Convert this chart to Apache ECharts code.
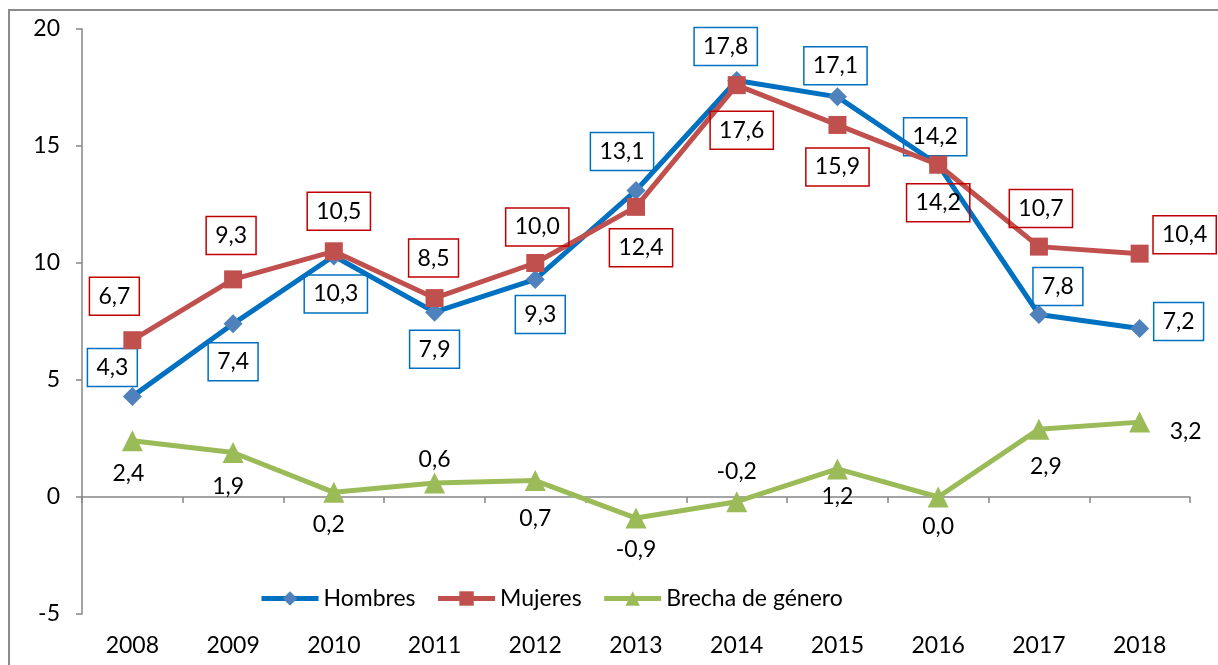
<!DOCTYPE html>
<html>
<head>
<meta charset="utf-8">
<script src="https://cdn.jsdelivr.net/npm/echarts@6/dist/echarts.min.js"></script>
<style>
  html, body { margin: 0; padding: 0; background: #fff; }
  #chart { width: 1218px; height: 665px; }
</style>
</head>
<body>
<div id="chart"></div>
<script>
var years = ['2008', '2009', '2010', '2011', '2012', '2013', '2014', '2015', '2016', '2017', '2018'];
var hombres = [4.3, 7.4, 10.3, 7.9, 9.3, 13.1, 17.8, 17.1, 14.2, 7.8, 7.2];
var mujeres = [6.7, 9.3, 10.5, 8.5, 10.0, 12.4, 17.6, 15.9, 14.2, 10.7, 10.4];
var brecha = [2.4, 1.9, 0.2, 0.6, 0.7, -0.9, -0.2, 1.2, 0.0, 2.9, 3.2];

// where each data label sits, relative to its point (px)
var hombresOff = [[-20, -29], [0, 38], [2, 38], [0, 37], [5, 35], [-14, -39], [-11, -34], [-2, -31], [-3, -28], [19, -28], [39, -7]];
var mujeresOff = [[-18, -44], [-2, -44], [5, -40], [-1, -40], [2, -36], [5, 41], [5, 45], [0, 42], [0, 38], [2, -38], [45, -19]];
var brechaOff = [[-4, 33], [-5, 34], [-5, 32], [0, -23], [0, 38], [0, 32], [0, -30], [0, 28], [0, 30], [7, 37], [46, 9]];

var FONT = 'Lato, "DejaVu Sans", sans-serif';
var FS = 23;

function fmt(p) {
  return p.value.toFixed(1).replace('.', ',');
}

function withLabels(values, offsets) {
  return values.map(function (v, i) {
    return { value: v, label: { offset: offsets[i] } };
  });
}

function labelStyle(boxColor) {
  var l = {
    show: true,
    position: 'inside',
    formatter: fmt,
    color: '#000',
    fontFamily: FONT,
    fontSize: FS,
    lineHeight: 22
  };
  if (boxColor) {
    l.borderColor = boxColor;
    l.borderWidth = 1.5;
    l.padding = [8, 9];
  }
  return l;
}

var chart = echarts.init(document.getElementById('chart'));

var axisGray = { color: '#868686', width: 1.5 };

var option = {
  backgroundColor: '#ffffff',
  animation: false,
  graphic: [{
    type: 'rect',
    shape: { x: 9, y: 10, width: 1400, height: 800 },
    style: { fill: 'none', stroke: '#8c8c8c', lineWidth: 2 },
    silent: true
  }],
  grid: { left: 82, right: 28, top: 29, bottom: 51, containLabel: false, outerBoundsMode: 'none' },
  legend: {
    left: 254,
    top: 582,
    itemWidth: 57,
    itemHeight: 18,
    itemGap: 20,
    lineStyle: { width: 5 },
    textStyle: { fontFamily: FONT, fontSize: FS, color: '#000' },
    data: ['Hombres', 'Mujeres', 'Brecha de género']
  },
  xAxis: [{
    // axis line through zero, ticks only
    type: 'category',
    data: years,
    boundaryGap: true,
    axisLine: { onZero: true, lineStyle: axisGray },
    axisTick: { show: true, length: 6, lineStyle: axisGray },
    axisLabel: { show: false }
  }, {
    // year labels along the bottom
    type: 'category',
    data: years,
    position: 'bottom',
    boundaryGap: true,
    axisLine: { show: false, onZero: false },
    axisTick: { show: false },
    axisLabel: { margin: 20, color: '#000', fontFamily: FONT, fontSize: FS }
  }],
  yAxis: {
    type: 'value',
    min: -5,
    max: 20,
    interval: 5,
    splitLine: { show: false },
    axisLine: { show: true, lineStyle: axisGray },
    axisTick: { show: true, length: 6, lineStyle: axisGray },
    axisLabel: { margin: 22, color: '#000', fontFamily: FONT, fontSize: FS }
  },
  series: [{
    name: 'Hombres',
    type: 'line',
    data: withLabels(hombres, hombresOff),
    symbol: 'diamond',
    symbolSize: 19,
    lineStyle: { color: '#0070C0', width: 5 },
    itemStyle: { color: '#4F81BD' },
    label: labelStyle('#0070C0'),
    z: 3
  }, {
    name: 'Mujeres',
    type: 'line',
    data: withLabels(mujeres, mujeresOff),
    symbol: 'rect',
    symbolSize: 18,
    lineStyle: { color: '#C0504D', width: 5 },
    itemStyle: { color: '#C0504D' },
    label: labelStyle('#C00000'),
    z: 4
  }, {
    name: 'Brecha de género',
    type: 'line',
    data: withLabels(brecha, brechaOff),
    symbol: 'triangle',
    symbolSize: 21,
    lineStyle: { color: '#9BBB59', width: 5 },
    itemStyle: { color: '#9BBB59' },
    label: labelStyle(null),
    z: 2
  }]
};

chart.setOption(option);
</script>
</body>
</html>
